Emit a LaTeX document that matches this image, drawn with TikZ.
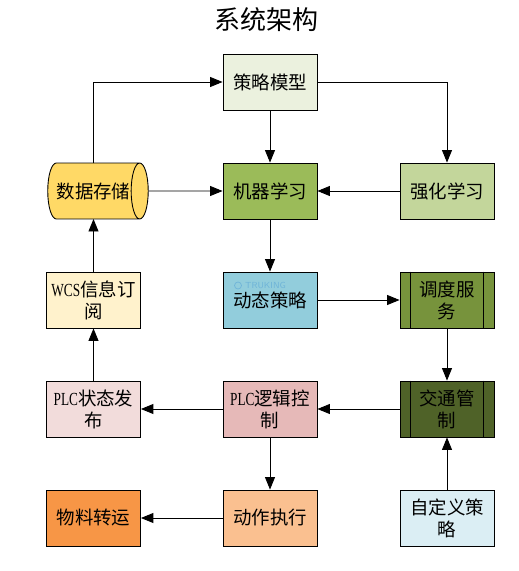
\documentclass[tikz,border=0pt]{standalone}
\usepackage{fontspec}
\setmainfont{Liberation Serif}
\newfontfamily\cjk{Noto Sans CJK SC}
\newfontfamily\narrow[FakeStretch=0.72]{Liberation Serif}
\newcommand{\lat}[1]{{\narrow #1}}
\usetikzlibrary{positioning,shapes.geometric,arrows.meta}
\tikzset{
  block/.style={
    inner sep = 0pt,
    shape = rectangle,
    draw,
    line width=0.5pt,
    minimum width=1.88cm,
    minimum height=1.12cm,
    align=center,
    font=\fontsize{10.5}{12.5}\selectfont\cjk
  },
  store/.style={
    inner sep = 0pt,
    shape = cylinder,
    draw,
    line width=0.5pt,
    shape aspect=1,
    cylinder uses custom fill,
    cylinder body fill=storefill,
    cylinder end fill=storefill,
    minimum width=1.12cm,
    minimum height=2.01cm,
    font=\fontsize{10.5}{12.5}\selectfont\cjk
  },
  link/.style={
    line width=0.5pt,
    -{Triangle[length=0.25cm,width=0.2cm]}
  },
  bar/.style={
    line width=0.5pt
  },
  title/.style={
    font=\fontsize{14.8}{16}\selectfont\cjk
  },
  logo/.style={
    font=\fontsize{5}{6}\selectfont\sffamily,
    text=logoblue,
    inner sep=0pt
  },
  logodot/.style={
    shape=circle,
    draw=logoblue,
    line width=0.4pt,
    inner sep=0pt,
    minimum size=0.14cm
  }
}
\definecolor{storefill}{HTML}{FFD966}
\definecolor{logoblue}{HTML}{6FB4D8}
\begin{document}
\begin{tikzpicture}[x=0.02cm,y=-0.02cm]
\useasboundingbox (0,0) rectangle (518,571);
\node[title] (head) at (266.5,20) {系统架构};
\node[block, fill={rgb,255:red,235;green,241;blue,222}] (model) at (270,82) {策略模型};
\node[block, fill={rgb,255:red,155;green,187;blue,89}] (ml) at (270,191) {机器学习};
\node[block, fill={rgb,255:red,195;green,214;blue,155}] (rl) at (447,191) {强化学习};
\node[store] (data) at (93.5,191) {数据存储};
\node[block, fill={rgb,255:red,146;green,205;blue,220}] (dyn) at (270,300) {动态策略};
\node[logo] (truking) at (265.5,285.5) {TRUKING};
\node[logodot] (logoicon) at (238,285.5) {};
\node[block, fill={rgb,255:red,119;green,147;blue,60}] (sched) at (447,300) {调度服\\务};
\node[block, fill={rgb,255:red,255;green,242;blue,204}] (wcs) at (93.5,300) {\lat{WCS}信息订\\阅};
\node[block, fill={rgb,255:red,242;green,220;blue,219}] (state) at (93.5,409) {\lat{PLC}状态发\\布};
\node[block, fill={rgb,255:red,230;green,185;blue,184}] (plc) at (270,409) {\lat{PLC}逻辑控\\制};
\node[block, fill={rgb,255:red,79;green,98;blue,40}] (traffic) at (447,409) {交通管\\制};
\node[block, fill={rgb,255:red,247;green,150;blue,70}] (goods) at (93.5,518) {物料转运};
\node[block, fill={rgb,255:red,250;green,192;blue,144}] (act) at (270,518) {动作执行};
\node[block, fill={rgb,255:red,219;green,238;blue,244}] (own) at (447,518) {自定义策\\略};
\coordinate (datatop) at (93.5,163);
\coordinate (databot) at (93.5,219);
\foreach \n in {sched,traffic}{
  \draw[bar] ([xshift=0.22cm]\n.north west) -- ([xshift=0.22cm]\n.south west);
  \draw[bar] ([xshift=-0.22cm]\n.north east) -- ([xshift=-0.22cm]\n.south east);
}
\draw[link] (datatop) |- (model.west);
\draw[link] (model.east) -| (rl.north);
\draw[link] (model) -- (ml);
\draw[link] (data.east) -- (ml.west);
\draw[link] (rl) -- (ml);
\draw[link] (ml) -- (dyn);
\draw[link] (dyn) -- (sched);
\draw[link] (sched) -- (traffic);
\draw[link] (own) -- (traffic);
\draw[link] (traffic) -- (plc);
\draw[link] (plc) -- (state);
\draw[link] (plc) -- (act);
\draw[link] (act) -- (goods);
\draw[link] (state) -- (wcs);
\draw[link] (wcs) -- (databot);
\end{tikzpicture}
\end{document}
